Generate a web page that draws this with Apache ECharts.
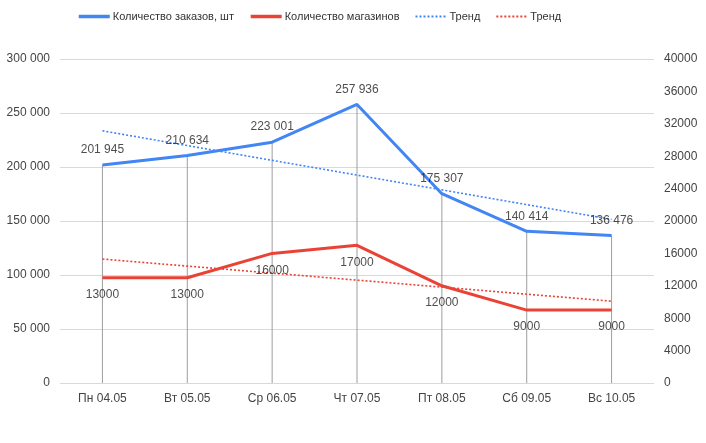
<!DOCTYPE html>
<html><head><meta charset="utf-8">
<script src="https://cdn.jsdelivr.net/npm/echarts@6/dist/echarts.min.js"></script>
<style>html,body{margin:0;padding:0;background:#fff}#c{width:706px;height:443px}</style>
</head><body><div id="c"></div>
<script>
var categories = ['Пн 04.05','Вт 05.05','Ср 06.05','Чт 07.05','Пт 08.05','Сб 09.05','Вс 10.05'];
var orders = [201945, 210634, 223001, 257936, 175307, 140414, 136476];
var stores = [13000, 13000, 16000, 17000, 12000, 9000, 9000];
var ordersTrend = [233500, null, null, null, null, null, 151500];
var storesTrend = [15300, null, null, null, null, null, 10100];
var leftTicks = {min: 0, max: 300000, interval: 50000};
var rightTicks = {min: 0, max: 40000, interval: 4000};

var FONT = 'Liberation Sans, Arial, sans-serif';
function sp(v){ return String(v).replace(/\B(?=(\d{3})+(?!\d))/g, ' '); }
var chart = echarts.init(document.getElementById('c'));
chart.setOption({
  animation: false,
  textStyle: {fontFamily: FONT},
  legend: {
    top: 6, left: 72, itemWidth: 31, itemHeight: 12, itemGap: 15,
    itemStyle: {opacity: 0},
    textStyle: {fontFamily: FONT, fontSize: 11, color: '#333', padding: [0,0,0,-2]},
    data: [
      {name: 'Количество заказов, шт', lineStyle: {width: 3.5}},
      {name: 'Количество магазинов', lineStyle: {width: 3.5}},
      {name: 'Тренд', lineStyle: {width: 2}},
      {name: 'Тренд ', lineStyle: {width: 2}}
    ]
  },
  grid: {left: 60, right: 52, top: 59, bottom: 60},
  xAxis: {
    type: 'category', data: categories,
    axisLine: {show: false}, axisTick: {show: false},
    axisLabel: {fontFamily: FONT, fontSize: 12, color: '#444', margin: 10}
  },
  yAxis: [
    {type: 'value', min: leftTicks.min, max: leftTicks.max, interval: leftTicks.interval,
     axisLine: {show:false}, axisTick: {show:false},
     splitLine: {lineStyle: {color: '#d9d9d9', width: 1}},
     axisLabel: {fontFamily: FONT, fontSize: 12, color: '#444', margin: 10, formatter: sp}},
    {type: 'value', min: rightTicks.min, max: rightTicks.max, interval: rightTicks.interval,
     axisLine: {show:false}, axisTick: {show:false}, splitLine: {show:false},
     axisLabel: {fontFamily: FONT, fontSize: 12, color: '#444', margin: 10,
       formatter: function(v){ return String(v); }}}
  ],
  series: [
    {name: 'drop', type: 'bar', data: orders, barWidth: 1, yAxisIndex: 0, silent: true,
     itemStyle: {color: '#9e9e9e'}, z: 1},
    {name: 'Количество заказов, шт', type: 'line', data: orders, yAxisIndex: 0,
     symbol: 'none', lineStyle: {color: '#4285F4', width: 3}, itemStyle: {color: '#4285F4'}, z: 4},
    {name: 'Количество магазинов', type: 'line', data: stores, yAxisIndex: 1,
     symbol: 'none', lineStyle: {color: '#EA4335', width: 3}, itemStyle: {color: '#EA4335'}, z: 4},
    {name: 'Тренд', type: 'line', data: ordersTrend, yAxisIndex: 0, connectNulls: true,
     symbol: 'none', lineStyle: {color: '#4285F4', width: 1.6, type: [2, 2]}, itemStyle: {color: '#4285F4'}, z: 3},
    {name: 'Тренд ', type: 'line', data: storesTrend, yAxisIndex: 1, connectNulls: true,
     symbol: 'none', lineStyle: {color: '#EA4335', width: 1.6, type: [2, 2]}, itemStyle: {color: '#EA4335'}, z: 3},
    {name: 'ordersLabels', type: 'scatter', data: orders, yAxisIndex: 0, symbolSize: 0, silent: true, z: 6,
     label: {show: true, position: 'top', distance: 9, fontFamily: FONT, fontSize: 12, color: '#222',
       formatter: function(p){ return sp(p.value); }}},
    {name: 'storesLabels', type: 'scatter', data: stores, yAxisIndex: 1, symbolSize: 0, silent: true, z: 6,
     label: {show: true, position: 'bottom', distance: 11, fontFamily: FONT, fontSize: 12, color: '#222'}}
  ]
});
</script></body></html>
